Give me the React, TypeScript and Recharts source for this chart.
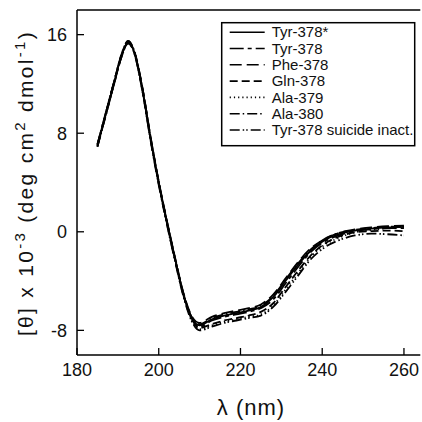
import React from 'react';
import { LineChart, Line, XAxis, YAxis, ReferenceLine } from 'recharts';

const wavelengths = [185, 187, 189, 191, 192.5, 194, 196, 198, 200, 202, 204, 206, 208, 210, 213, 216, 219, 222, 225, 228, 231, 234, 237, 240, 244, 248, 252, 256, 260];

const tyr378star = [7.0, 9.5, 12.0, 14.4, 15.4, 14.6, 11.6, 7.6, 4.0, 0.8, -2.2, -5.0, -6.9, -7.6, -7.1, -6.8, -6.6, -6.4, -6.1, -5.3, -4.0, -2.7, -1.6, -0.8, -0.2, 0.1, 0.25, 0.35, 0.4];
const tyr378 = [7.1, 9.6, 12.1, 14.5, 15.5, 14.6, 11.5, 7.5, 3.9, 0.7, -2.3, -5.1, -7.0, -7.7, -7.2, -6.9, -6.7, -6.5, -6.2, -5.5, -4.2, -2.9, -1.7, -0.9, -0.3, 0.05, 0.2, 0.3, 0.3];
const phe378 = [6.9, 9.4, 11.9, 14.3, 15.3, 14.6, 11.7, 7.7, 4.1, 0.9, -2.1, -4.9, -6.8, -7.4, -6.9, -6.6, -6.4, -6.2, -5.9, -5.1, -3.8, -2.5, -1.4, -0.7, -0.1, 0.2, 0.35, 0.45, 0.5];
const gln378 = [7.0, 9.5, 12.0, 14.4, 15.4, 14.6, 11.6, 7.6, 4.0, 0.8, -2.2, -5.0, -7.0, -7.8, -7.5, -7.2, -7.0, -6.8, -6.5, -5.8, -4.5, -3.2, -2.0, -1.1, -0.4, -0.05, 0.05, 0.1, 0.05];
const ala379 = [7.0, 9.6, 12.1, 14.4, 15.4, 14.5, 11.5, 7.5, 3.9, 0.7, -2.3, -5.1, -7.1, -7.9, -7.6, -7.3, -7.1, -6.9, -6.7, -6.0, -4.7, -3.4, -2.1, -1.2, -0.5, -0.05, 0.15, 0.3, 0.4];
const ala380 = [7.1, 9.6, 12.1, 14.5, 15.5, 14.7, 11.7, 7.7, 4.0, 0.8, -2.2, -5.0, -6.9, -7.5, -7.0, -6.7, -6.5, -6.3, -6.0, -5.2, -3.9, -2.6, -1.5, -0.7, -0.1, 0.15, 0.3, 0.4, 0.45];
const suicide = [6.9, 9.4, 11.9, 14.3, 15.3, 14.5, 11.4, 7.4, 3.8, 0.6, -2.4, -5.2, -7.2, -8.0, -7.7, -7.4, -7.2, -7.0, -6.8, -6.1, -4.9, -3.6, -2.3, -1.4, -0.7, -0.3, -0.15, -0.2, -0.3];

const xTicks = [180, 200, 220, 240, 260];
const yTicks = [-8, 0, 8, 16];

const series = [
  { key: 's1', name: 'Tyr-378*', values: tyr378star, dash: undefined as string | undefined },
  { key: 's2', name: 'Tyr-378', values: tyr378, dash: '14 4 4 4' },
  { key: 's3', name: 'Phe-378', values: phe378, dash: '12 5' },
  { key: 's4', name: 'Gln-378', values: gln378, dash: '8 4' },
  { key: 's5', name: 'Ala-379', values: ala379, dash: '1.2 3' },
  { key: 's6', name: 'Ala-380', values: ala380, dash: '10 3 1.5 3' },
  { key: 's7', name: 'Tyr-378 suicide inact.', values: suicide, dash: '10 3 1.5 2 1.5 3' },
];

const data = wavelengths.map((w, i) => {
  const row: Record<string, number> = { w };
  series.forEach((s) => {
    row[s.key] = s.values[i];
  });
  return row;
});

const FONT = '"Liberation Sans", Arial, Helvetica, sans-serif';

const XTick = (props: any) => {
  const { x, y, payload } = props;
  return (
    <g>
      <line x1={x} y1={y} x2={x} y2={y - 7} stroke="#000" strokeWidth={1.3} />
      <text x={x} y={y + 21} textAnchor="middle" fontSize={18} fontFamily={FONT} fill="#111">
        {payload.value}
      </text>
    </g>
  );
};

const YTick = (props: any) => {
  const { x, y, payload } = props;
  return (
    <g>
      <line x1={x} y1={y} x2={x + 7} y2={y} stroke="#000" strokeWidth={1.3} />
      <text x={x - 10} y={y + 6.3} textAnchor="end" fontSize={18} fontFamily={FONT} fill="#111">
        {payload.value}
      </text>
    </g>
  );
};

export default function App() {
  return (
    <div style={{ width: 422, height: 422, position: 'relative', background: '#fff' }}>
      <style>{'html,body{margin:0;padding:0;overflow:hidden;background:#fff}'}</style>
      <LineChart width={422} height={422} data={data} margin={{ top: 10, right: 1.7, bottom: 0, left: 0 }}>
        <XAxis
          dataKey="w"
          type="number"
          domain={[180, 264]}
          ticks={xTicks}
          tick={XTick}
          tickSize={0}
          tickMargin={0}
          tickLine={false}
          axisLine={{ stroke: '#000', strokeWidth: 1.5 }}
          height={67}
          allowDataOverflow
        />
        <YAxis
          type="number"
          domain={[-10, 18]}
          ticks={yTicks}
          tick={YTick}
          tickSize={0}
          tickMargin={0}
          tickLine={false}
          axisLine={{ stroke: '#000', strokeWidth: 1.5 }}
          width={77}
          allowDataOverflow
        />
        <ReferenceLine y={18} stroke="#000" strokeWidth={1.5} />
        {series.map((s) => (
          <Line
            key={s.key}
            dataKey={s.key}
            name={s.name}
            type="monotone"
            stroke="#000"
            strokeWidth={1.8}
            strokeDasharray={s.dash}
            dot={false}
            isAnimationActive={false}
          />
        ))}
        <g transform="translate(221.7,22.7)">
          <rect x={0} y={0} width={193} height={123} fill="#fff" stroke="#000" strokeWidth={1.5} />
          {series.map((s, i) => {
            const cy = 9.5 + i * 16.3;
            return (
              <g key={s.key}>
                <line x1={8} y1={cy} x2={43} y2={cy} stroke="#000" strokeWidth={1.6} strokeDasharray={s.dash} />
                <text x={50} y={cy + 5.3} fontSize={15} fontFamily={FONT} fill="#111">
                  {s.name}
                </text>
              </g>
            );
          })}
        </g>
        <text x={251} y={415} textAnchor="middle" fontSize={22} letterSpacing={1} fontFamily={FONT} fill="#111">
          λ (nm)
        </text>
        <text
          transform="translate(33,183) rotate(-90)"
          textAnchor="middle"
          fontSize={21}
          letterSpacing={2.3}
          fontFamily={FONT}
          fill="#111"
        >
          [θ] x 10
          <tspan fontSize={15} dy={-8}>-3</tspan>
          <tspan dy={8}> (deg  cm</tspan>
          <tspan fontSize={15} dy={-8}>2</tspan>
          <tspan dy={8}>  dmol</tspan>
          <tspan fontSize={15} dy={-8}>-1</tspan>
          <tspan dy={8}>)</tspan>
        </text>
      </LineChart>
    </div>
  );
}
